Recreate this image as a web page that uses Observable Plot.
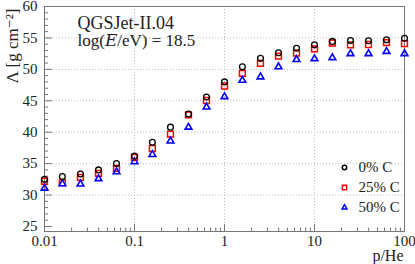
<!DOCTYPE html>
<html>
<head>
<meta charset="utf-8">
<script src="https://cdn.jsdelivr.net/npm/d3@7"></script>
<script src="https://cdn.jsdelivr.net/npm/@observablehq/plot@0.6"></script>
<style>
  html, body { margin: 0; padding: 0; background: #fff; }
</style>
</head>
<body>
<div id="chart"></div>
<script>
// p/He ratio (x positions)
const ratio = [0.01, 0.0158, 0.0251, 0.0398, 0.0631, 0.1, 0.158, 0.251, 0.398, 0.631,
  1, 1.58, 2.51, 3.98, 6.31, 10, 15.8, 25.1, 39.8, 63.1, 100];
// Lambda [g cm^-2] per carbon fraction
const lambda0 = [32.5, 32.95, 33.35, 34.0, 35.0, 36.2, 38.4, 40.8, 42.9, 45.6,
  48.0, 50.4, 51.75, 52.65, 53.35, 53.9, 54.45, 54.6, 54.55, 54.7, 54.95];
const lambda25 = [32.2, 31.95, 32.8, 33.45, 34.25, 36.0, 37.4, 39.7, 42.75, 45.05,
  47.35, 49.35, 50.95, 52.1, 52.6, 53.25, 54.2, 53.9, 53.95, 54.25, 54.1];
const lambda50 = [31.1, 31.8, 31.75, 32.6, 33.7, 35.3, 36.45, 38.6, 40.8, 44.0,
  45.65, 48.25, 48.8, 50.4, 51.55, 51.7, 51.85, 52.5, 52.5, 52.85, 52.5];

const seriesNames = ["0% C", "25% C", "50% C"];
const xTicks = [0.01, 0.1, 1, 10, 100];
const xTickLabels = {0.01: "0.01", 0.1: "0.1", 1: "1", 10: "10", 100: "100"};
const yTicks = [25, 30, 35, 40, 45, 50, 55, 60];
const yGrid = [30, 35, 40, 45, 50, 55];
const xGrid = [0.1, 1, 10];
const xMinor = [];
for (const dec of [0.01, 0.1, 1, 10]) for (let k = 2; k <= 9; k++) xMinor.push(+(dec * k).toPrecision(3));
const yMinor = d3.range(25, 60).filter(v => v % 5 !== 0);

const rows = (vals) => ratio.map((r, i) => ({x: r, y: vals[i]}));
const d0 = rows(lambda0), d25 = rows(lambda25), d50 = rows(lambda50);

const serif = "'Liberation Serif', 'DejaVu Serif', serif";
const legendStyles = [
  {symbol: "circle", stroke: "black", r: 2.2},
  {symbol: "square", stroke: "#ff0000", r: 2.4},
  {symbol: "triangle", stroke: "#0000ff", r: 1.8}
];
const legendMarks = [];
seriesNames.forEach((name, i) => {
  const s = legendStyles[i];
  legendMarks.push(Plot.dot([name], {frameAnchor: "top-right", dx: -60, dy: 161 + i * 20,
    symbol: s.symbol, stroke: s.stroke, r: s.r, strokeWidth: 1.5, fill: "none"}));
  legendMarks.push(Plot.text([name], {frameAnchor: "top-right", dx: -46, dy: 161 + i * 20,
    lineAnchor: "middle", text: d => d, textAnchor: "start", fontSize: 15, fill: "#222"}));
});

const chart = Plot.plot({
  width: 415,
  height: 264,
  marginLeft: 44,
  marginRight: 11,
  marginTop: 6,
  marginBottom: 33,
  style: {fontFamily: serif, fontSize: "15px", background: "#fff", color: "#222"},
  x: {type: "log", domain: [0.01, 100]},
  y: {domain: [24.2, 60]},
  marks: [
    Plot.gridX(xGrid, {stroke: "#bbb", strokeOpacity: 1, strokeDasharray: "1,2"}),
    Plot.gridY(yGrid, {stroke: "#bbb", strokeOpacity: 1, strokeDasharray: "1,2"}),
    Plot.axisX({ticks: xTicks, tickSize: -7, text: null, stroke: "#777", label: null}),
    Plot.axisX({ticks: xMinor, tickSize: -3.5, text: null, stroke: "#777", label: null}),
    Plot.axisX({ticks: xTicks, tickSize: 0, tickPadding: 4, tickFormat: d => xTickLabels[d], label: null, fontSize: 15}),
    Plot.axisY({ticks: yTicks, tickSize: -8, text: null, stroke: "#777", label: null}),
    Plot.axisY({ticks: yMinor, tickSize: -4, text: null, stroke: "#777", label: null}),
    Plot.axisY({ticks: yTicks, tickSize: 0, tickPadding: 7, label: null, fontSize: 15}),
    Plot.frame({stroke: "#777"}),
    Plot.dot(d25, {x: "x", y: "y", symbol: "square", r: 3.3, stroke: "#ff0000", strokeWidth: 1.5, fill: "none"}),
    Plot.dot(d50, {x: "x", y: "y", symbol: "triangle", r: 2.5, stroke: "#0000ff", strokeWidth: 1.6, fill: "none"}),
    Plot.dot(d0, {x: "x", y: "y", symbol: "circle", r: 2.9, stroke: "black", strokeWidth: 1.3, fill: "none"}),
    Plot.text(["QGSJet-II.04"], {frameAnchor: "top-left", dx: 33, dy: 16.5, lineAnchor: "middle", text: d => d, textAnchor: "start", fontSize: 18, fill: "#222"}),
    Plot.text(["log(𝐸/eV) = 18.5"], {frameAnchor: "top-left", dx: 33, dy: 34, lineAnchor: "middle", text: d => d, textAnchor: "start", fontSize: 17, fill: "#222"}),
    Plot.text(["Λ [g cm⁻²]"], {frameAnchor: "top-left", dx: -32, dy: 2, lineAnchor: "middle", rotate: -90, text: d => d, textAnchor: "end", fontSize: 17, fill: "#222"}),
    Plot.text(["p/He"], {frameAnchor: "bottom-right", dx: -1, dy: 24, lineAnchor: "middle", text: d => d, textAnchor: "end", fontSize: 16, fill: "#222"}),
    ...legendMarks
  ]
});
document.getElementById("chart").appendChild(chart);
</script>
</body>
</html>
